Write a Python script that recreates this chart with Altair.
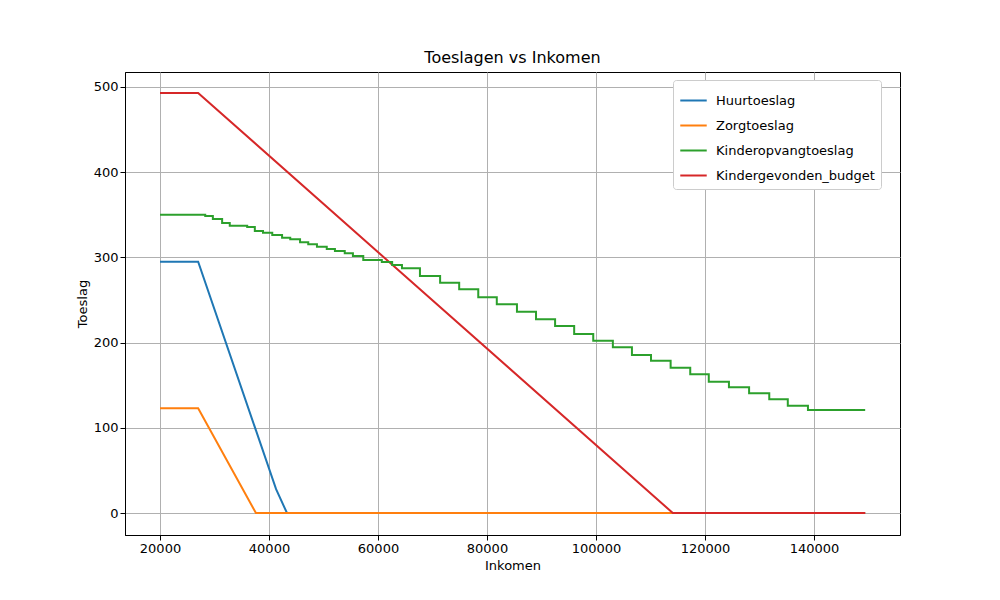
import pandas as pd
import altair as alt

series = ['Huurtoeslag', 'Zorgtoeslag', 'Kinderopvangtoeslag', 'Kindergevonden_budget']
colors = ['#1f77b4', '#ff7f0e', '#2ca02c', '#d62728']

huur_x = [20000, 27000, 41300, 43300, 149400]
huur_y = [295, 295, 28, 0, 0]
zorg_x = [20000, 27000, 37600, 149400]
zorg_y = [123, 123, 0, 0]
budget_x = [20000, 27000, 114100, 149400]
budget_y = [493, 493, 0, 0]

# step-after points for kinderopvangtoeslag
opvang_x = [20000, 28300, 29700, 31400, 32800, 36000, 37400, 38900, 40600, 42400,
            43900, 45700, 47200, 48800, 50600, 52100, 53900, 55400, 57300, 60700,
            62600, 64400, 67700, 71400, 74900, 78400, 81800, 85500, 89000, 92500,
            96000, 99500, 103100, 106600, 110100, 113700, 117300, 120700, 124400,
            128100, 131800, 135200, 138900, 149400]
opvang_y = [350, 348.6, 345, 340.4, 337.2, 335.7, 331, 329, 326.3, 323.2,
            321.3, 317.8, 315.4, 312.6, 309.9, 307.5, 304.8, 301.6, 297, 294.6,
            291.1, 287.2, 278.2, 270.3, 262.6, 253.2, 245, 236.3, 227.3, 219.5,
            210.1, 202.2, 194.5, 185.4, 178.8, 170.5, 162.8, 154.1, 147.5,
            140.5, 133.5, 126, 121, 121]

lin = pd.concat([
    pd.DataFrame({'Inkomen': huur_x, 'Toeslag': huur_y, 'serie': series[0]}),
    pd.DataFrame({'Inkomen': zorg_x, 'Toeslag': zorg_y, 'serie': series[1]}),
    pd.DataFrame({'Inkomen': budget_x, 'Toeslag': budget_y, 'serie': series[3]}),
])
step = pd.DataFrame({'Inkomen': opvang_x, 'Toeslag': opvang_y, 'serie': series[2]})

color = alt.Color('serie:N', scale=alt.Scale(domain=series, range=colors),
                  sort=series,
                  legend=alt.Legend(title=None, orient='none', legendX=548, legendY=8,
                                    symbolType='stroke', symbolStrokeWidth=2, symbolSize=700,
                                    labelFontSize=13, labelFont='DejaVu Sans', labelOffset=8,
                                    fillColor='white', strokeColor='#cccccc', padding=6,
                                    cornerRadius=3, rowPadding=3))
x = alt.X('Inkomen:Q', title='Inkomen', scale=alt.Scale(domain=[13577, 155790], nice=False, zero=False),
          axis=alt.Axis(values=[20000, 40000, 60000, 80000, 100000, 120000, 140000], format='d'))
y = alt.Y('Toeslag:Q', title='Toeslag', scale=alt.Scale(domain=[-25.8, 517.6], nice=False),
          axis=alt.Axis(values=[0, 100, 200, 300, 400, 500]))

lines = alt.Chart(lin).mark_line(strokeWidth=2, clip=True).encode(x=x, y=y, color=color, detail='serie:N')
steps = alt.Chart(step).mark_line(strokeWidth=2, interpolate='step-after').encode(x=x, y=y, color=color)

chart = (lines + steps).properties(
    width=775, height=463,
    title=alt.TitleParams('Toeslagen vs Inkomen', fontSize=16, fontWeight='normal', font='DejaVu Sans', offset=6),
    autosize=alt.AutoSizeParams(type='none'),
    padding={'left': 117, 'top': 64, 'right': 92, 'bottom': 57},
).configure_axis(
    grid=True, gridColor='#b0b0b0', gridWidth=1, domainColor='black', tickColor='black',
    labelFont='DejaVu Sans', titleFont='DejaVu Sans', labelFontSize=13, titleFontSize=13,
    titleFontWeight='normal', labelColor='black', titleColor='black', tickSize=5
).configure_view(stroke='black', strokeWidth=1)

chart.save("out.html", embed_options={"renderer": "svg", "actions": False})
